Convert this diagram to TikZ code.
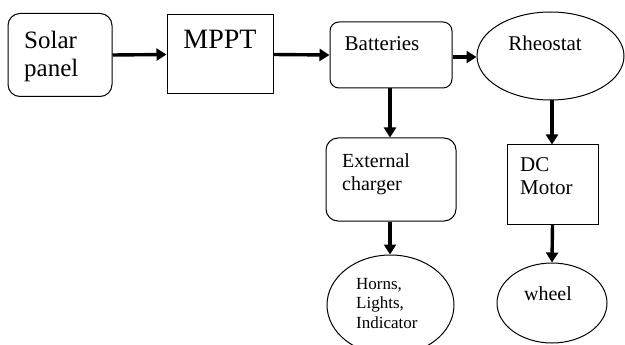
\documentclass[tikz,border=0pt]{standalone}
\usepackage{fontspec}
\setmainfont{Liberation Serif}
\usepackage{xcolor}
\usetikzlibrary{arrows.meta,shapes.geometric}

\tikzset{
  roundbox/.style={draw, line width=1pt, rounded corners=12pt, inner sep=0pt},
  plainbox/.style={draw, line width=1pt, inner sep=0pt},
  oval/.style={draw, ellipse, line width=1pt, inner sep=0pt},
  txt/.style={inner sep=0pt, align=left},
  flow/.style={line width=3.4pt, -{Triangle[length=10pt,width=12pt]}}
}

\begin{document}
\begin{tikzpicture}[x=1pt,y=-1pt]
\clip (0,0) rectangle (625,345);
% blocks
\node[roundbox, minimum width=104pt, minimum height=83pt] (solar) at (60,55) {};
\node[plainbox, minimum width=106pt, minimum height=79pt] (mppt) at (220,54.5) {};
\node[roundbox, rounded corners=9pt, minimum width=122pt, minimum height=66pt] (batt) at (391,55) {};
\node[oval, minimum width=147pt, minimum height=88pt] (rheo) at (550.5,56) {};
\node[roundbox, minimum width=130pt, minimum height=83pt] (ext) at (391,179.5) {};
\node[plainbox, minimum width=91pt, minimum height=79pt] (dc) at (552.5,184.5) {};
\node[oval, minimum width=127pt, minimum height=100pt] (horns) at (390.5,305) {};
\node[oval, minimum width=110pt, minimum height=80pt] (wheel) at (552,303) {};
% texts
\node[txt, anchor=west, font=\fontsize{25}{28}\selectfont] (solartxt) at (24,56) {Solar\\panel};
\node[txt, font=\fontsize{28}{30}\selectfont] (mppttxt) at (220,39) {MPPT};
\node[txt, font=\fontsize{21}{23}\selectfont] (batttxt) at (382,44) {Batteries};
\node[txt, font=\fontsize{21}{23}\selectfont] (rheotxt) at (545,43) {Rheostat};
\node[txt, anchor=north west, font=\fontsize{20}{23}\selectfont] (exttxt) at (342,153) {External\\charger};
\node[txt, anchor=north west, font=\fontsize{21}{23}\selectfont] (dctxt) at (520,157) {DC\\Motor};
\node[txt, anchor=north west, font=\fontsize{17}{19.5}\selectfont] (hornstxt) at (356,278) {Horns,\\Lights,\\Indicator};
\node[txt, font=\fontsize{20}{23}\selectfont] (wheeltxt) at (548,294) {wheel};
% arrows
\draw[flow] (solar.east) -- (mppt.west);
\draw[flow] (mppt.east) -- (batt.west);
\draw[flow] (batt.east |- 0,57) -- (rheo.west |- 0,57);
\draw[flow] (batt.south -| 390,0) -- (ext.north -| 390,0);
\draw[flow] (ext.south -| 390,0) -- (horns.north -| 390,0);
\draw[flow] (rheo.south -| 552,0) -- (dc.north -| 552,0);
\draw[flow] (dc.south) -- (wheel.north);
\end{tikzpicture}
\end{document}
